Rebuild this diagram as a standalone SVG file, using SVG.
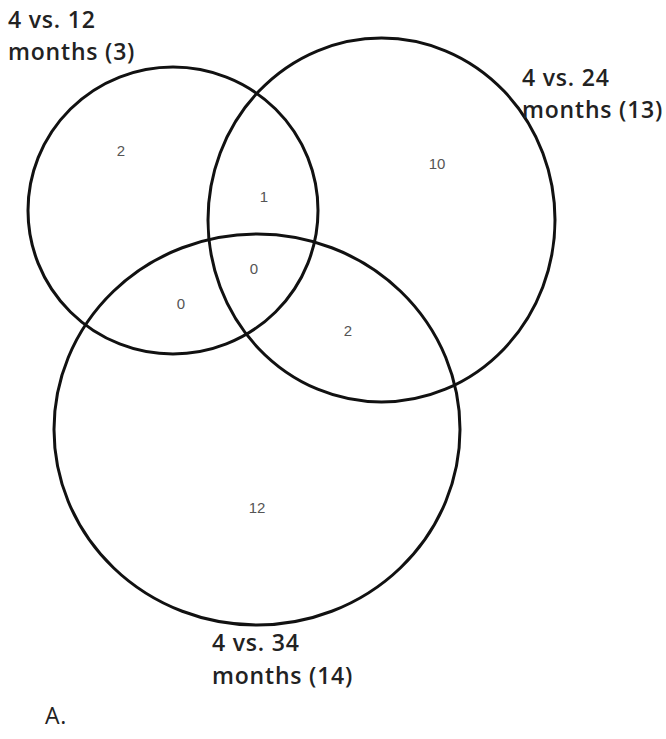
<svg xmlns="http://www.w3.org/2000/svg" width="666" height="739" viewBox="0 0 666 739">
<style>
.c{fill:none;stroke:#111;stroke-width:3}
.lab{font-family:"Open Sans","Liberation Sans",sans-serif;font-size:23px;font-weight:600;fill:#222;letter-spacing:0.8px}
.num{font-family:"Liberation Sans",sans-serif;font-size:15px;fill:#555;text-anchor:middle}
</style>
<rect width="666" height="739" fill="#fff"/>
<g id="set-12">
<ellipse class="c" cx="173" cy="210.5" rx="145" ry="143.5"/>
<text class="lab" x="8" y="28">4 vs. 12</text>
<text class="lab" x="8" y="60">months (3)</text>
</g>
<g id="set-24">
<ellipse class="c" cx="381.5" cy="220" rx="173.5" ry="182"/>
<text class="lab" x="522" y="86">4 vs. 24</text>
<text class="lab" x="522" y="118">months (13)</text>
</g>
<g id="set-34">
<ellipse class="c" cx="257" cy="429.5" rx="203" ry="195.5"/>
<text class="lab" x="212" y="651">4 vs. 34</text>
<text class="lab" x="212" y="684">months (14)</text>
</g>
<g id="counts">
<text class="num" x="121" y="156">2</text>
<text class="num" x="264" y="202">1</text>
<text class="num" x="437" y="169">10</text>
<text class="num" x="254" y="274">0</text>
<text class="num" x="181" y="309">0</text>
<text class="num" x="348" y="336">2</text>
<text class="num" x="257" y="513">12</text>
</g>
<text class="lab" x="45" y="724" style="font-weight:400">A.</text>
</svg>
